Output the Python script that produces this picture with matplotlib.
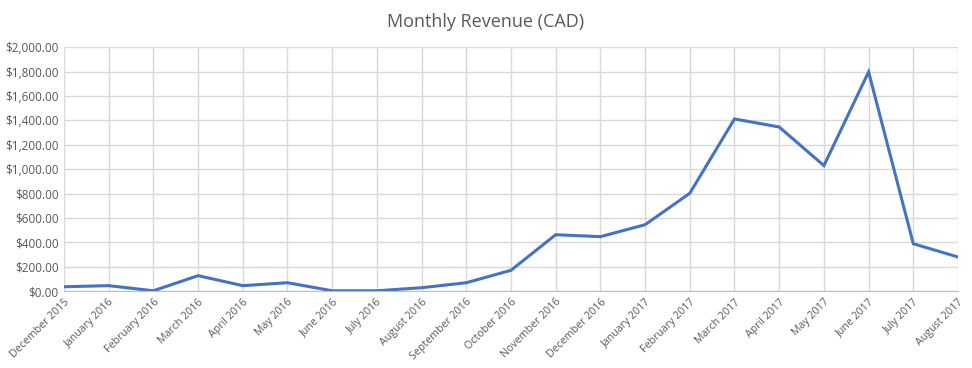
import matplotlib.pyplot as plt
from matplotlib.ticker import FuncFormatter

months = ["December 2015", "January 2016", "February 2016", "March 2016", "April 2016",
          "May 2016", "June 2016", "July 2016", "August 2016", "September 2016",
          "October 2016", "November 2016", "December 2016", "January 2017",
          "February 2017", "March 2017", "April 2017", "May 2017", "June 2017",
          "July 2017", "August 2017"]
revenue = [35, 44, 2, 126, 44, 68, 2, 2, 27, 68, 170, 462, 446, 544,
           802, 1412, 1346, 1029, 1798, 388, 279]

plt.rcParams['font.family'] = ['Open Sans', 'DejaVu Sans']

fig = plt.figure(figsize=(9.72, 3.68), dpi=100)
ax = fig.add_axes([0.0658, 0.2092, 0.9198, 0.6623])

x = list(range(len(months)))
ax.plot(x, revenue, color='#4472C4', linewidth=2.2, solid_joinstyle='miter')

ax.set_xlim(0, len(months) - 1)
ax.set_ylim(0, 2000)
ax.set_yticks(range(0, 2001, 200))
ax.yaxis.set_major_formatter(FuncFormatter(lambda v, p: f"${v:,.2f}"))
ax.set_xticks(x)
ax.set_xticklabels(months, rotation=45, ha='right', rotation_mode='anchor')

ax.grid(True, color='#d9d9d9', linewidth=1)
ax.set_axisbelow(True)
for s in ['top', 'right', 'left']:
    ax.spines[s].set_visible(False)
ax.spines['bottom'].set_color('#bfbfbf')
ax.tick_params(length=0, colors='#595959', labelsize=8.5)
ax.tick_params(axis='x', pad=4, labelsize=7.7)
ax.tick_params(axis='y', pad=4)

fig.suptitle("Monthly Revenue (CAD)", x=0.5, y=0.965, fontsize=13, color='#595959')

fig.savefig("out.png", dpi=100)
